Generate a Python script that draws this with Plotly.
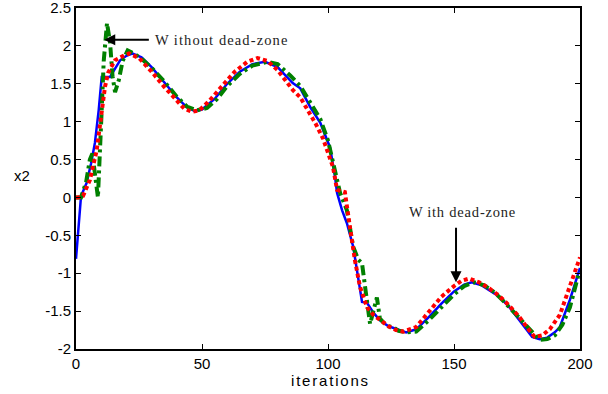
import plotly.graph_objects as go

# ---- data ----
blue_t = [0, 1, 2, 4.2, 6, 7.5, 9, 10.2, 13.5, 15.5, 17.5, 20, 22.3, 26, 30, 35, 40, 44, 47, 50, 55, 60, 65, 70, 75, 80, 86, 89,
          93, 97, 100.8, 102.8, 103.6, 105.6, 107.5, 110, 112, 113.5, 115.5, 118, 120.6, 124, 128.6, 131, 135, 140, 145, 150,
          154, 157, 161, 165, 168, 172, 175, 178, 181, 184, 187, 190, 192, 196, 199, 200]
blue_y = [-0.81, -0.35, 0.02, 0.19, 0.45, 0.72, 1.15, 1.59, 1.59, 1.70, 1.81, 1.87, 1.90, 1.85, 1.72, 1.52, 1.32, 1.19, 1.14, 1.16, 1.30, 1.50, 1.66, 1.76, 1.79, 1.72, 1.51, 1.44,
          1.19, 0.98, 0.66, 0.27, 0.06, -0.17, -0.34, -0.65, -1.05, -1.38, -1.39, -1.52, -1.62, -1.70, -1.75, -1.78, -1.74, -1.58, -1.40, -1.24,
          -1.15, -1.12, -1.16, -1.25, -1.31, -1.45, -1.58, -1.72, -1.84, -1.87, -1.85, -1.78, -1.71, -1.35, -1.05, -0.93]

green_t = [0, 2, 4, 5.5, 6.5, 7.5, 8.7, 10, 11, 12.3, 13.5, 14.5, 15.5, 17, 18.5, 20.5, 23, 26, 30, 35, 40, 44, 48, 52, 56, 60, 65, 70,
           76, 80, 85, 89, 93, 97, 100, 103, 104.8, 107.5, 110, 112, 113.5, 115, 116.7, 118, 119.4, 120.6, 122, 124, 125.8, 128, 131,
           135, 140, 145, 150, 154, 158, 162, 166, 170, 175, 180, 184, 187, 190, 193, 196, 199.4, 200]
green_y = [0.0, 0.0, 0.2, 0.5, 0.58, 0.35, 0.0, 1.0, 1.8, 2.30, 2.05, 1.6, 1.39, 1.55, 1.8, 1.94, 1.90, 1.83, 1.71, 1.53, 1.33, 1.20, 1.15, 1.18, 1.30, 1.47, 1.63, 1.74,
           1.79, 1.76, 1.61, 1.47, 1.26, 1.03, 0.75, 0.35, 0.06, -0.17, -0.65, -0.82, -0.87, -1.25, -1.67, -1.50, -1.32, -1.60, -1.65, -1.70, -1.71, -1.76, -1.78,
           -1.77, -1.62, -1.45, -1.28, -1.17, -1.12, -1.16, -1.25, -1.38, -1.56, -1.75, -1.88, -1.87, -1.82, -1.68, -1.45, -1.02, -0.98]

red_t = [0, 0.9, 2.8, 5.5, 8.2, 10.2, 11.5, 12.8, 15.5, 19.4, 21, 25, 30, 35, 40, 43, 46, 49, 53, 58, 63, 68, 72, 76, 80, 86, 89,
         92, 95, 98, 102, 103.6, 105, 106.7, 108.7, 110.7, 112.7, 115.5, 118, 120.6, 124, 127, 130, 135, 140, 145, 150, 153, 156,
         160, 164, 168, 172, 176, 180, 182, 185, 188, 192, 196, 200]
red_y = [0.0, 0.0, 0.02, 0.23, 0.62, 1.15, 1.46, 1.65, 1.81, 1.88, 1.90, 1.84, 1.66, 1.46, 1.27, 1.17, 1.13, 1.15, 1.28, 1.48, 1.66, 1.79, 1.84, 1.80, 1.68, 1.42, 1.32,
         1.15, 0.98, 0.78, 0.40, 0.10, 0.08, 0.07, -0.39, -0.83, -1.18, -1.45, -1.55, -1.62, -1.70, -1.75, -1.77, -1.71, -1.50, -1.31, -1.17, -1.10, -1.07,
         -1.12, -1.20, -1.30, -1.43, -1.58, -1.76, -1.84, -1.82, -1.74, -1.55, -1.18, -0.79]

x_ticks = [0, 50, 100, 150, 200]
y_ticks = [-2, -1.5, -1, -0.5, 0, 0.5, 1, 1.5, 2, 2.5]
y_tick_text = ["-2", "-1.5", "-1", "-0.5", "0", "0.5", "1", "1.5", "2", "2.5"]

fig = go.Figure()
fig.add_trace(go.Scatter(x=blue_t, y=blue_y, mode="lines",
                         line=dict(color="#0000ff", width=2.5)))
fig.add_trace(go.Scatter(x=green_t, y=green_y, mode="lines",
                         line=dict(color="#008000", width=4, dash="10px,4px,3px,4px")))
fig.add_trace(go.Scatter(x=red_t, y=red_y, mode="lines",
                         line=dict(color="#ff0000", width=4, dash="4px,3px")))

annfont = dict(family="Liberation Serif, Times New Roman, serif", size=14.5, color="#222")
fig.add_annotation(x=11.2, y=2.08, ax=29.5, ay=2.08, xref="x", yref="y", axref="x", ayref="y",
                   showarrow=True, arrowhead=2, arrowsize=1.1, arrowwidth=2, arrowcolor="black", text="")
fig.add_annotation(x=30.4, y=2.08, xref="x", yref="y",
                   text="<span style='letter-spacing:1.1px'>W\u2009ithout dead-zone</span>", showarrow=False,
                   xanchor="left", font=annfont)
fig.add_annotation(x=150.8, y=-1.12, ax=150.8, ay=-0.38, xref="x", yref="y", axref="x", ayref="y",
                   showarrow=True, arrowhead=2, arrowsize=1.1, arrowwidth=2, arrowcolor="black", text="")
fig.add_annotation(x=153.5, y=-0.19, xref="x", yref="y",
                   text="<span style='letter-spacing:0.8px'>W\u2009ith dead-zone</span>", showarrow=False,
                   font=annfont)

axfont = dict(family="Liberation Sans, Arial", size=15, color="black")
fig.add_annotation(x=-0.107, y=0.51, xref="paper", yref="paper", text="x2", showarrow=False,
                   font=axfont, xanchor="center", yanchor="middle")
fig.add_annotation(x=0.505, y=-0.091, xref="paper", yref="paper",
                   text="<span style='letter-spacing:1.8px'>iterations</span>", showarrow=False,
                   font=axfont, xanchor="center", yanchor="middle")

fig.update_xaxes(range=[0, 200], tickvals=x_ticks, ticks="inside", ticklen=5, tickcolor="black",
                 showline=True, linecolor="black", linewidth=2, mirror="ticks", showgrid=False, zeroline=False,
                 tickfont=axfont, automargin=False, ticklabeloverflow="allow")
fig.update_yaxes(range=[-2, 2.5], tickvals=y_ticks, ticktext=y_tick_text, ticks="inside", ticklen=5, tickcolor="black",
                 showline=True, linecolor="black", linewidth=2, mirror="ticks", showgrid=False, zeroline=False,
                 tickfont=axfont, automargin=False, ticklabeloverflow="allow")
fig.update_layout(width=608, height=394, margin=dict(l=76, r=28, t=8, b=45, autoexpand=False),
                  paper_bgcolor="white", plot_bgcolor="white", showlegend=False)
fig.write_html("out.html", config={"displayModeBar": False},
               post_script="document.body.style.margin='0px';")
